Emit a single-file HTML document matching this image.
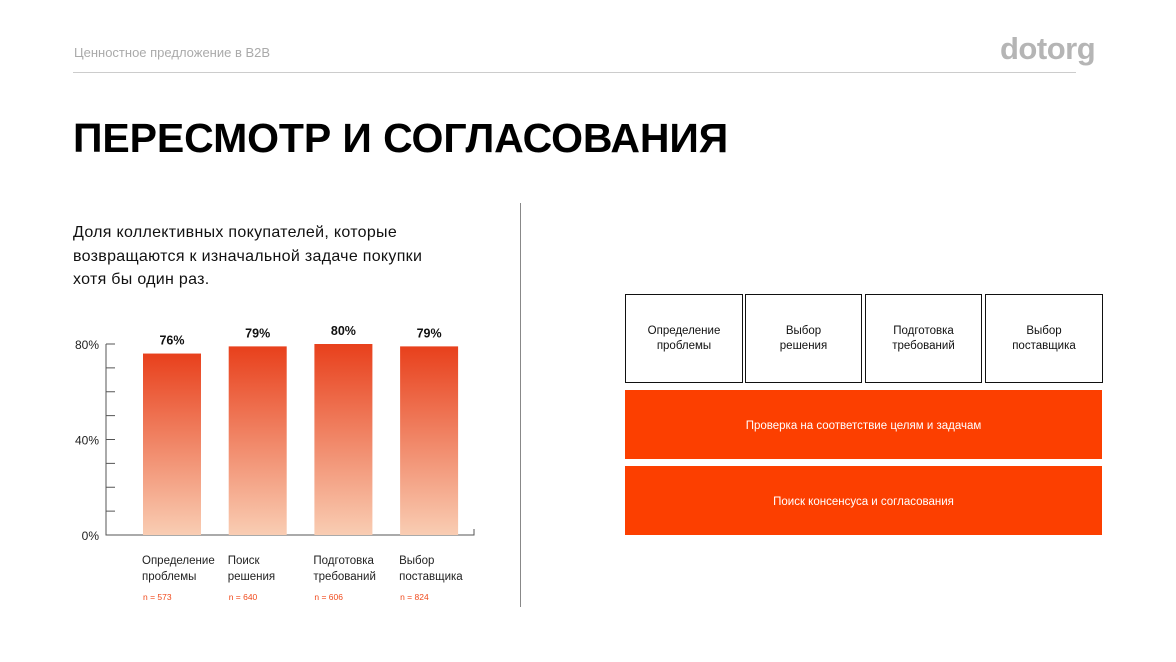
<!DOCTYPE html>
<html><head><meta charset="utf-8"><style>
body{margin:0;width:1176px;height:662px;background:#fff;font-family:"Liberation Sans",sans-serif;position:relative;overflow:hidden}
.a{position:absolute}
.box{position:absolute;top:294px;height:89px;border:1.5px solid #111;box-sizing:border-box;display:flex;align-items:center;justify-content:center;text-align:center;font-size:11.5px;line-height:15px;color:#111}
.ob{position:absolute;left:625px;width:477px;height:69px;background:#fc3f00;color:#fff;font-size:11.5px;display:flex;align-items:center;justify-content:center;padding-top:3px;box-sizing:border-box}
</style></head><body>
<div class="a" style="left:74px;top:45px;font-size:13px;color:#aaa">Ценностное предложение в B2B</div>
<div class="a" style="left:1000px;top:31px;font-size:31px;font-weight:bold;color:#b5b5b5;letter-spacing:-0.5px">dotorg</div>
<div class="a" style="left:73px;top:72px;width:1003px;height:1px;background:#ccc"></div>
<div class="a" style="left:73px;top:115px;font-size:41px;font-weight:bold;color:#000;letter-spacing:-0.1px">ПЕРЕСМОТР И СОГЛАСОВАНИЯ</div>
<div class="a" style="left:73px;top:221px;font-size:16px;line-height:23.5px;color:#111;letter-spacing:0.3px">Доля коллективных покупателей, которые<br>возвращаются к изначальной задаче покупки<br>хотя бы один раз.</div>
<div class="a" style="left:520px;top:203px;width:1px;height:404px;background:#888"></div>
<svg class="a" style="left:0;top:0" width="520" height="662">
<defs><linearGradient id="g" x1="0" y1="0" x2="0" y2="1"><stop offset="0" stop-color="#e8401c"/><stop offset="1" stop-color="#f9cdb3"/></linearGradient></defs>
<g id="c"></g></svg>
<script>
const categories=[["Определение","проблемы"],["Поиск","решения"],["Подготовка","требований"],["Выбор","поставщика"]];
const values=[76,79,80,79];
const samples=["n = 573","n = 640","n = 606","n = 824"];
const yTicks=[0,40,80];
const ns="http://www.w3.org/2000/svg",g=document.getElementById('c');
const y0=535,px=191/80,x0=106,bx0=143,step=85.7,bw=58;
const y=v=>y0-v*px;
function mk(t,a,txt){const e=document.createElementNS(ns,t);for(const k in a)e.setAttribute(k,a[k]);if(txt!=null)e.textContent=txt;g.appendChild(e);return e;}
let e=mk('path',{d:`M${x0} ${y(80)}V${y0}H474V${y0-6}`,stroke:'#555',fill:'none','stroke-width':1});


for(let v=0;v<=80;v+=10){e=mk('line',{x1:x0,x2:x0+9,y1:y(v),y2:y(v),stroke:'#555'});

}
yTicks.forEach(v=>{e=mk('text',{x:99,y:y(v)+5,'text-anchor':'end','font-size':12,fill:'#222'},v+'%');

});
values.forEach((v,i)=>{const x=bx0+i*step;
e=mk('rect',{x:x,y:y(v),width:bw,height:y0-y(v),fill:'url(#g)'});


e=mk('text',{x:x+bw/2,y:y(v)-9,'text-anchor':'middle','font-size':12.5,'font-weight':'bold',fill:'#111'},v+'%');


categories[i].forEach((l,j)=>{e=mk('text',{x:x-1,y:564+j*16,'font-size':11.5,fill:'#222'},l);

});
e=mk('text',{x:x,y:600,'font-size':8.5,fill:'#f04a1c'},samples[i]);

});
</script>
<div class="box" style="left:625px;width:118px">Определение<br>проблемы</div>
<div class="box" style="left:745px;width:117px">Выбор<br>решения</div>
<div class="box" style="left:865px;width:117px">Подготовка<br>требований</div>
<div class="box" style="left:985px;width:118px">Выбор<br>поставщика</div>
<div class="ob" style="top:390px">Проверка на соответствие целям и задачам</div>
<div class="ob" style="top:466px">Поиск консенсуса и согласования</div>
</body></html>
